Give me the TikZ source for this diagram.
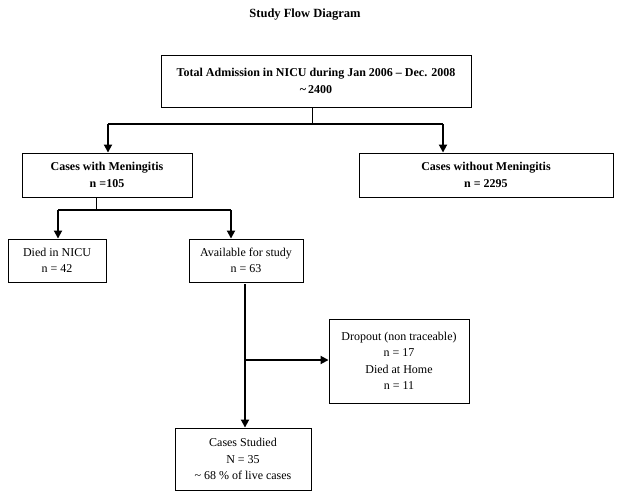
\documentclass[tikz,border=0pt]{standalone}
\usepackage{fontspec}
\setmainfont{Liberation Serif}
\usetikzlibrary{calc,positioning,arrows.meta}

\begin{document}
\begin{tikzpicture}[x=1pt,y=-1pt,
    box/.style={draw,line width=0.9pt,inner sep=0pt,align=center,
      font=\fontsize{12}{16.5}\selectfont},
    boldbox/.style={box,font=\fontsize{12}{16.5}\selectfont\bfseries},
    arr/.style={line width=1.8pt,-{Triangle[length=8pt,width=8pt]}},
    link/.style={line width=0.8pt}]
      \useasboundingbox (0,0) rectangle (629,493);

      \node[font=\fontsize{12.5}{14}\selectfont\bfseries] (title) at (305,15) {Study Flow Diagram};

      \node[boldbox,minimum width=310,minimum height=52] (total) at (316,81)
        {Total Admission in NICU during Jan 2006 -- Dec. 2008\\ \textasciitilde\,2400};
      \node[boldbox,minimum width=170,minimum height=44] (mening) at (107,175)
        {Cases with Meningitis\\ n =105};
      \node[boldbox,minimum width=254,minimum height=44] (nomening) at (486,175)
        {Cases without Meningitis\\ n = 2295};
      \node[box,minimum width=98,minimum height=43] (died) at (57,260.5)
        {Died in NICU\\ n = 42};
      \node[box,minimum width=114,minimum height=43] (avail) at (246,260.5)
        {Available for study\\ n = 63};
      \node[box,minimum width=140,minimum height=84] (dropout) at (399,361)
        {Dropout (non traceable)\\ n = 17\\ Died at Home\\ n = 11};
      \node[box,minimum width=136,minimum height=62] (studied) at (243,459)
        {Cases Studied\\ N = 35\\ \textasciitilde\ 68 \% of live cases};

      % first split
      \coordinate (split1) at (312,124);
      \coordinate (lbr1) at (108,124);
      \coordinate (rbr1) at (443,124);
      \draw[link] (total.south -| split1) -- (split1);
      \draw[line width=1.2pt] (lbr1) -- (rbr1);
      \draw[arr] (lbr1) -- (lbr1 |- mening.north);
      \draw[arr] (rbr1) -- (rbr1 |- nomening.north);

      % second split
      \coordinate (split2) at (96,210);
      \coordinate (lbr2) at (58,210);
      \coordinate (rbr2) at (231,210);
      \draw[link] (mening.south -| split2) -- (split2);
      \draw[line width=1.2pt] (lbr2) -- (rbr2);
      \draw[arr] (lbr2) -- (lbr2 |- died.north);
      \draw[arr] (rbr2) -- (rbr2 |- avail.north);

      % available -> studied, dropout
      \coordinate (split3) at (245,360);
      \draw[arr] ($(split3 |- avail.south)+(0,2)$) -- (split3 |- studied.north);
      \draw[arr] (split3) -- (dropout.west |- split3);
\end{tikzpicture}
\end{document}
